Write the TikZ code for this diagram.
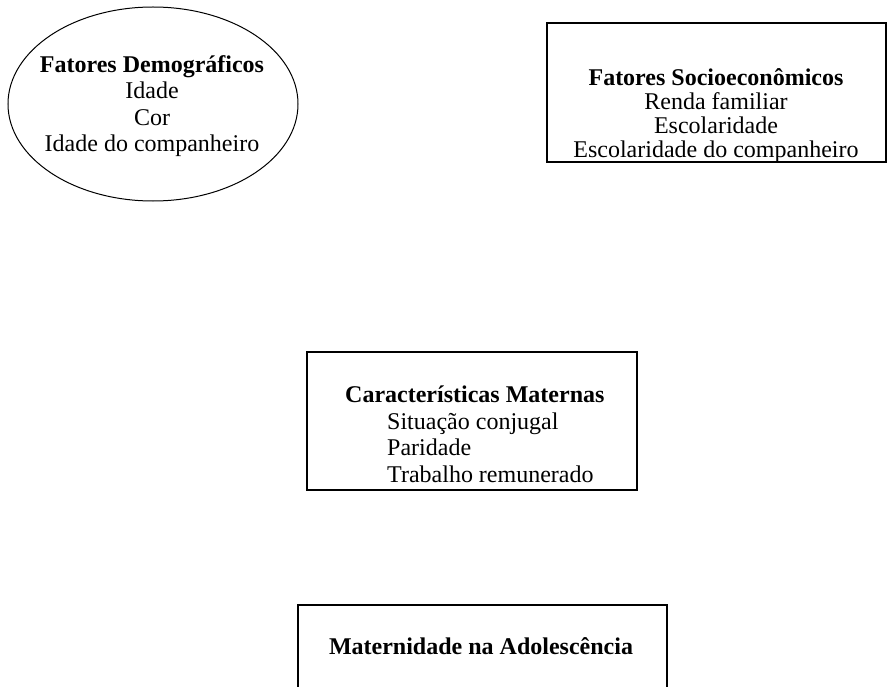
\documentclass[tikz,border=0pt]{standalone}
\usepackage{fontspec}
\setmainfont{Liberation Serif}
\usepackage{tikz}
\usetikzlibrary{
  shapes.geometric
}

\begin{document}
\begin{tikzpicture}[
          x=1pt,y=-1pt,
          quadro/.style={
              draw,
              line width=1.5pt,
              inner sep=0pt
            },oval/.style={
              draw,
              ellipse,
              line width=1pt,
              inner sep=0pt
            },texto/.style={
              inner sep=0pt,
              font=\fontsize{24}{26.5}\selectfont
            }
        ]
        % área da figura
        \clip (0,0) rectangle (888,687);

        % fatores demográficos
        \node[oval, minimum width=290, minimum height=194] (demo) at (153,104) {};
        \node[texto, align=center, anchor=base] (demo texto) at (152,152)
          {\textbf{Fatores Demográficos}\\Idade\hspace{28pt}\\Cor\hspace{32pt}\\Idade do companheiro};

        % fatores socioeconômicos
        \node[quadro, minimum width=339, minimum height=139] (socio) at (716.5,92.5) {};
        \node[texto, font=\fontsize{24}{24}\selectfont, align=center, anchor=base] (socio texto) at (716,158)
          {\textbf{Fatores Socioeconômicos}\\Renda familiar\\Escolaridade\\Escolaridade do companheiro};

        % características maternas
        \node[quadro, minimum width=330, minimum height=138] (materna) at (472,421) {};
        \node[texto, align=left, anchor=base west] (materna texto) at (345,482)
          {\textbf{Características Maternas}\\\hspace*{42pt}Situação conjugal\\\hspace*{42pt}Paridade\\\hspace*{42pt}Trabalho remunerado};

        % desfecho
        \node[quadro, minimum width=369, minimum height=140] (desfecho) at (482.5,675) {};
        \node[texto, anchor=base] (desfecho texto) at (481,654) {\textbf{Maternidade na Adolescência}};

      \end{tikzpicture}
\end{document}
